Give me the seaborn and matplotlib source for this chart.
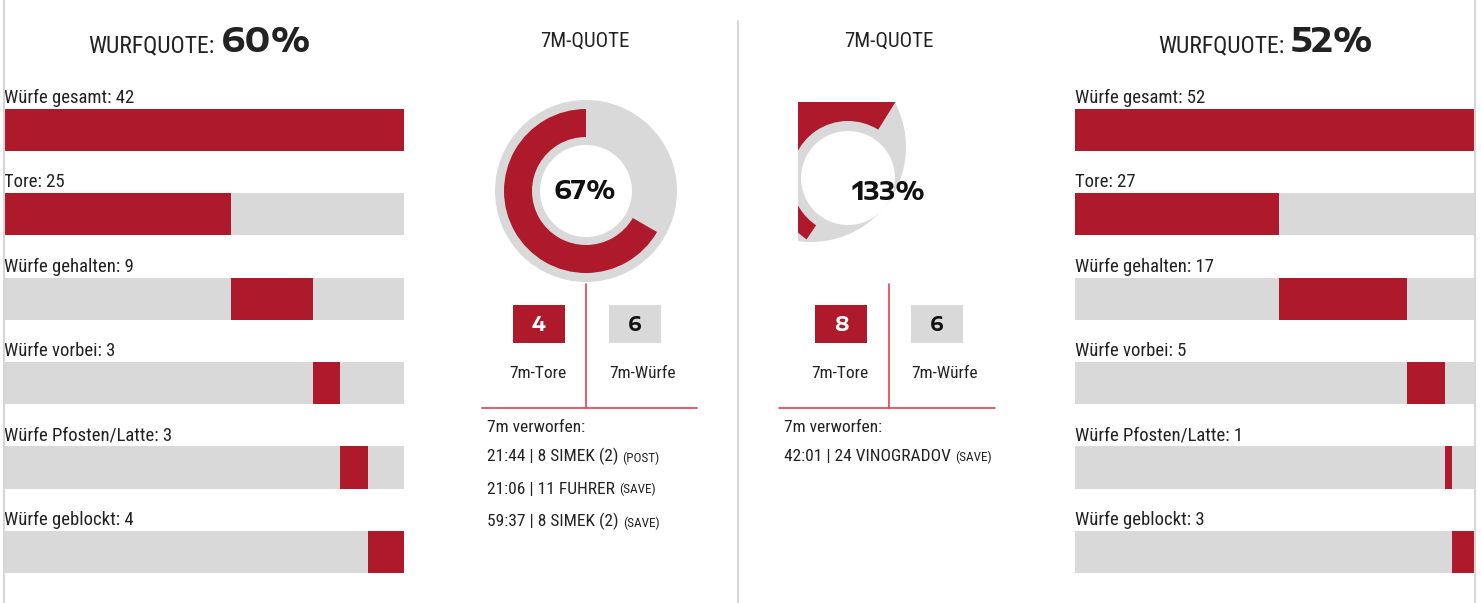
import matplotlib
matplotlib.use('Agg')
import matplotlib.pyplot as plt
import numpy as np
import pandas as pd
import seaborn as sns
from matplotlib.patches import Wedge, Circle, Rectangle

# ---------------------------------------------------------------------------
#         Data
# ---------------------------------------------------------------------------
bar_labels = ['Würfe gesamt', 'Tore', 'Würfe gehalten', 'Würfe vorbei',
              'Würfe Pfosten/Latte', 'Würfe geblockt']
home_values = [42, 25, 9, 3, 3, 4]
away_values = [52, 27, 17, 5, 1, 3]

home_7m_goals, home_7m_shots = 4, 6
away_7m_goals, away_7m_shots = 8, 6

home_misses = ['21:44 | 8 SIMEK (2)', '21:06 | 11 FUHRER', '59:37 | 8 SIMEK (2)']
home_miss_types = ['(POST)', '(SAVE)', '(SAVE)']
away_misses = ['42:01 | 24 VINOGRADOV']
away_miss_types = ['(SAVE)']

RED = '#ae1a2c'
GREY = '#d9d9d9'
LINE_RED = '#e8404f'
LINE_GREY = '#d6d6d6'
TXT = '#222222'
WIDE = ['Encode Sans Expanded', 'DejaVu Sans']

W, H = 1481, 603

sns.set_theme(style='white')
plt.rcParams['font.family'] = ['Roboto Condensed', 'Liberation Sans', 'DejaVu Sans']

fig = plt.figure(figsize=(W / 100, H / 100), dpi=100)


def add_axes_px(left, top, width, height):
    return fig.add_axes([left / W, 1 - (top + height) / H, width / W, height / H])


# overlay in pixel coordinates for lines, boxes and text (drawn on top)
ov = add_axes_px(0, 0, W, H)
ov.set(xlim=(0, W), ylim=(H, 0))
ov.axis('off')
ov.patch.set_visible(False)
ov.set_zorder(5)

for x, y0 in [(3.5, 0), (737.5, 21), (1474.5, 0)]:
    ov.plot([x, x], [y0, H], color=LINE_GREY, lw=1.5)


# ---------------------------------------------------------------------------
#         Bar panels
# ---------------------------------------------------------------------------
def bar_panel(left, values):
    ax = add_axes_px(left, 87.8, 400, 506.4)
    parts = np.array(values[1:])
    scale = parts.sum()
    # total row spans the whole bar, the others are stacked segments
    starts = np.concatenate([[0, 0], np.cumsum(parts)[:-1]])
    widths = np.concatenate([[scale], parts])
    df = pd.DataFrame({'label': bar_labels, 'full': scale})
    sns.barplot(data=df, x='full', y='label', color=GREY, width=0.5,
                saturation=1, linewidth=0, ax=ax)
    ax.barh(np.arange(len(values)), widths, left=starts, height=0.5,
            color=RED, linewidth=0)
    for i, (lab, v) in enumerate(zip(bar_labels, values)):
        ax.text(0, i - 0.32, f'{lab}: {v}', ha='left', va='baseline',
                fontsize=13.5, color=TXT)
    ax.set(xlim=(0, scale), ylim=(len(values) - 0.5, -0.5))
    ax.axis('off')
    return ax


bar_panel(4, home_values)
bar_panel(1075, away_values)

home_quote = round(100 * home_values[1] / home_values[0])
away_quote = round(100 * away_values[1] / away_values[0])
for xr, q in [(214, home_quote), (1284, away_quote)]:
    ov.text(xr, 52, 'WURFQUOTE:', ha='right', va='baseline', fontsize=17, color=TXT)
    ov.text(xr + 7, 52, f'{q}%', ha='left', va='baseline', fontsize=25,
            weight='bold', family=WIDE, color=TXT)

# ---------------------------------------------------------------------------
#         7m panels
# ---------------------------------------------------------------------------
home_pct = home_7m_goals / home_7m_shots
away_pct = away_7m_goals / away_7m_shots

for xc in [585, 889]:
    ov.text(xc, 47, '7M-QUOTE', ha='center', va='baseline', fontsize=15, color=TXT)

# donut 1
dax = add_axes_px(486, 91, 200, 200)
dax.set(xlim=(-100, 100), ylim=(-100, 100))
dax.axis('off')
dax.add_patch(Wedge((0, 0), 91, 0, 360, width=45, color=GREY, lw=0))
dax.add_patch(Wedge((0, 0), 82, 90, 90 + 360 * home_pct, width=28, color=RED, lw=0))
ov.text(585, 199, f'{round(100 * home_pct)}%', ha='center', va='baseline',
        fontsize=18.5, weight='bold', family=WIDE, color='#111111')

# donut 2: the >100% arc overflows its box in the source and gets clipped
dax2 = add_axes_px(798, 102, 162, 160)
dax2.set(xlim=(-50, 112), ylim=(-84, 76))
dax2.axis('off')
dax2.add_patch(Circle((-37, 31), 95, color=GREY, lw=0))
dax2.add_patch(Wedge((0, 0), 92, 58, 190, width=35, color=RED, lw=0))
dax2.add_patch(Wedge((0, 0), 74, 190, 236, width=17, color=RED, lw=0))
dax2.add_patch(Circle((0, 0), 47, color='white', lw=0))
ov.text(889, 200, f'{round(100 * away_pct)}%', ha='center', va='baseline',
        fontsize=18.5, weight='bold', family=WIDE, color='#111111')


def seven_m_block(xv, x0, x1, red_x, grey_x, goals, shots, tore_x, wuerfe_x,
                  misses, miss_types):
    ov.plot([xv, xv], [284, 408], color=LINE_RED, lw=1.2)
    ov.plot([x0, x1], [408, 408], color=LINE_RED, lw=1.2)
    ov.add_patch(Rectangle((red_x, 305), 52, 38, color=RED, lw=0))
    ov.add_patch(Rectangle((grey_x, 305), 52, 38, color=GREY, lw=0))
    ov.text(red_x + 26, 331, str(goals), ha='center', va='baseline',
            fontsize=14, weight='bold', family=WIDE, color='white')
    ov.text(grey_x + 26, 331, str(shots), ha='center', va='baseline',
            fontsize=14, weight='bold', family=WIDE, color='#111111')
    ov.text(tore_x, 378, '7m-Tore', ha='center', va='baseline', fontsize=12.5, color=TXT)
    ov.text(wuerfe_x, 378, '7m-Würfe', ha='center', va='baseline', fontsize=12.5, color=TXT)
    ov.text(x0 + 5, 432, '7m verworfen:', ha='left', va='baseline', fontsize=12.5, color=TXT)
    for k, (m, t) in enumerate(zip(misses, miss_types)):
        main = ov.text(x0 + 5, 461 + 32.5 * k, m, ha='left', va='baseline',
                       fontsize=12.5, color=TXT)
        ov.annotate(t, xy=(1, 0), xycoords=main, xytext=(4, 0),
                    textcoords='offset pixels', ha='left', va='bottom',
                    fontsize=9.5, color=TXT)


seven_m_block(585.5, 482, 697, 513, 609, home_7m_goals, home_7m_shots,
              538, 643, home_misses, home_miss_types)
seven_m_block(888.5, 779, 995, 815, 911, away_7m_goals, away_7m_shots,
              840, 945, away_misses, away_miss_types)

fig.savefig('out.png', dpi=100)
